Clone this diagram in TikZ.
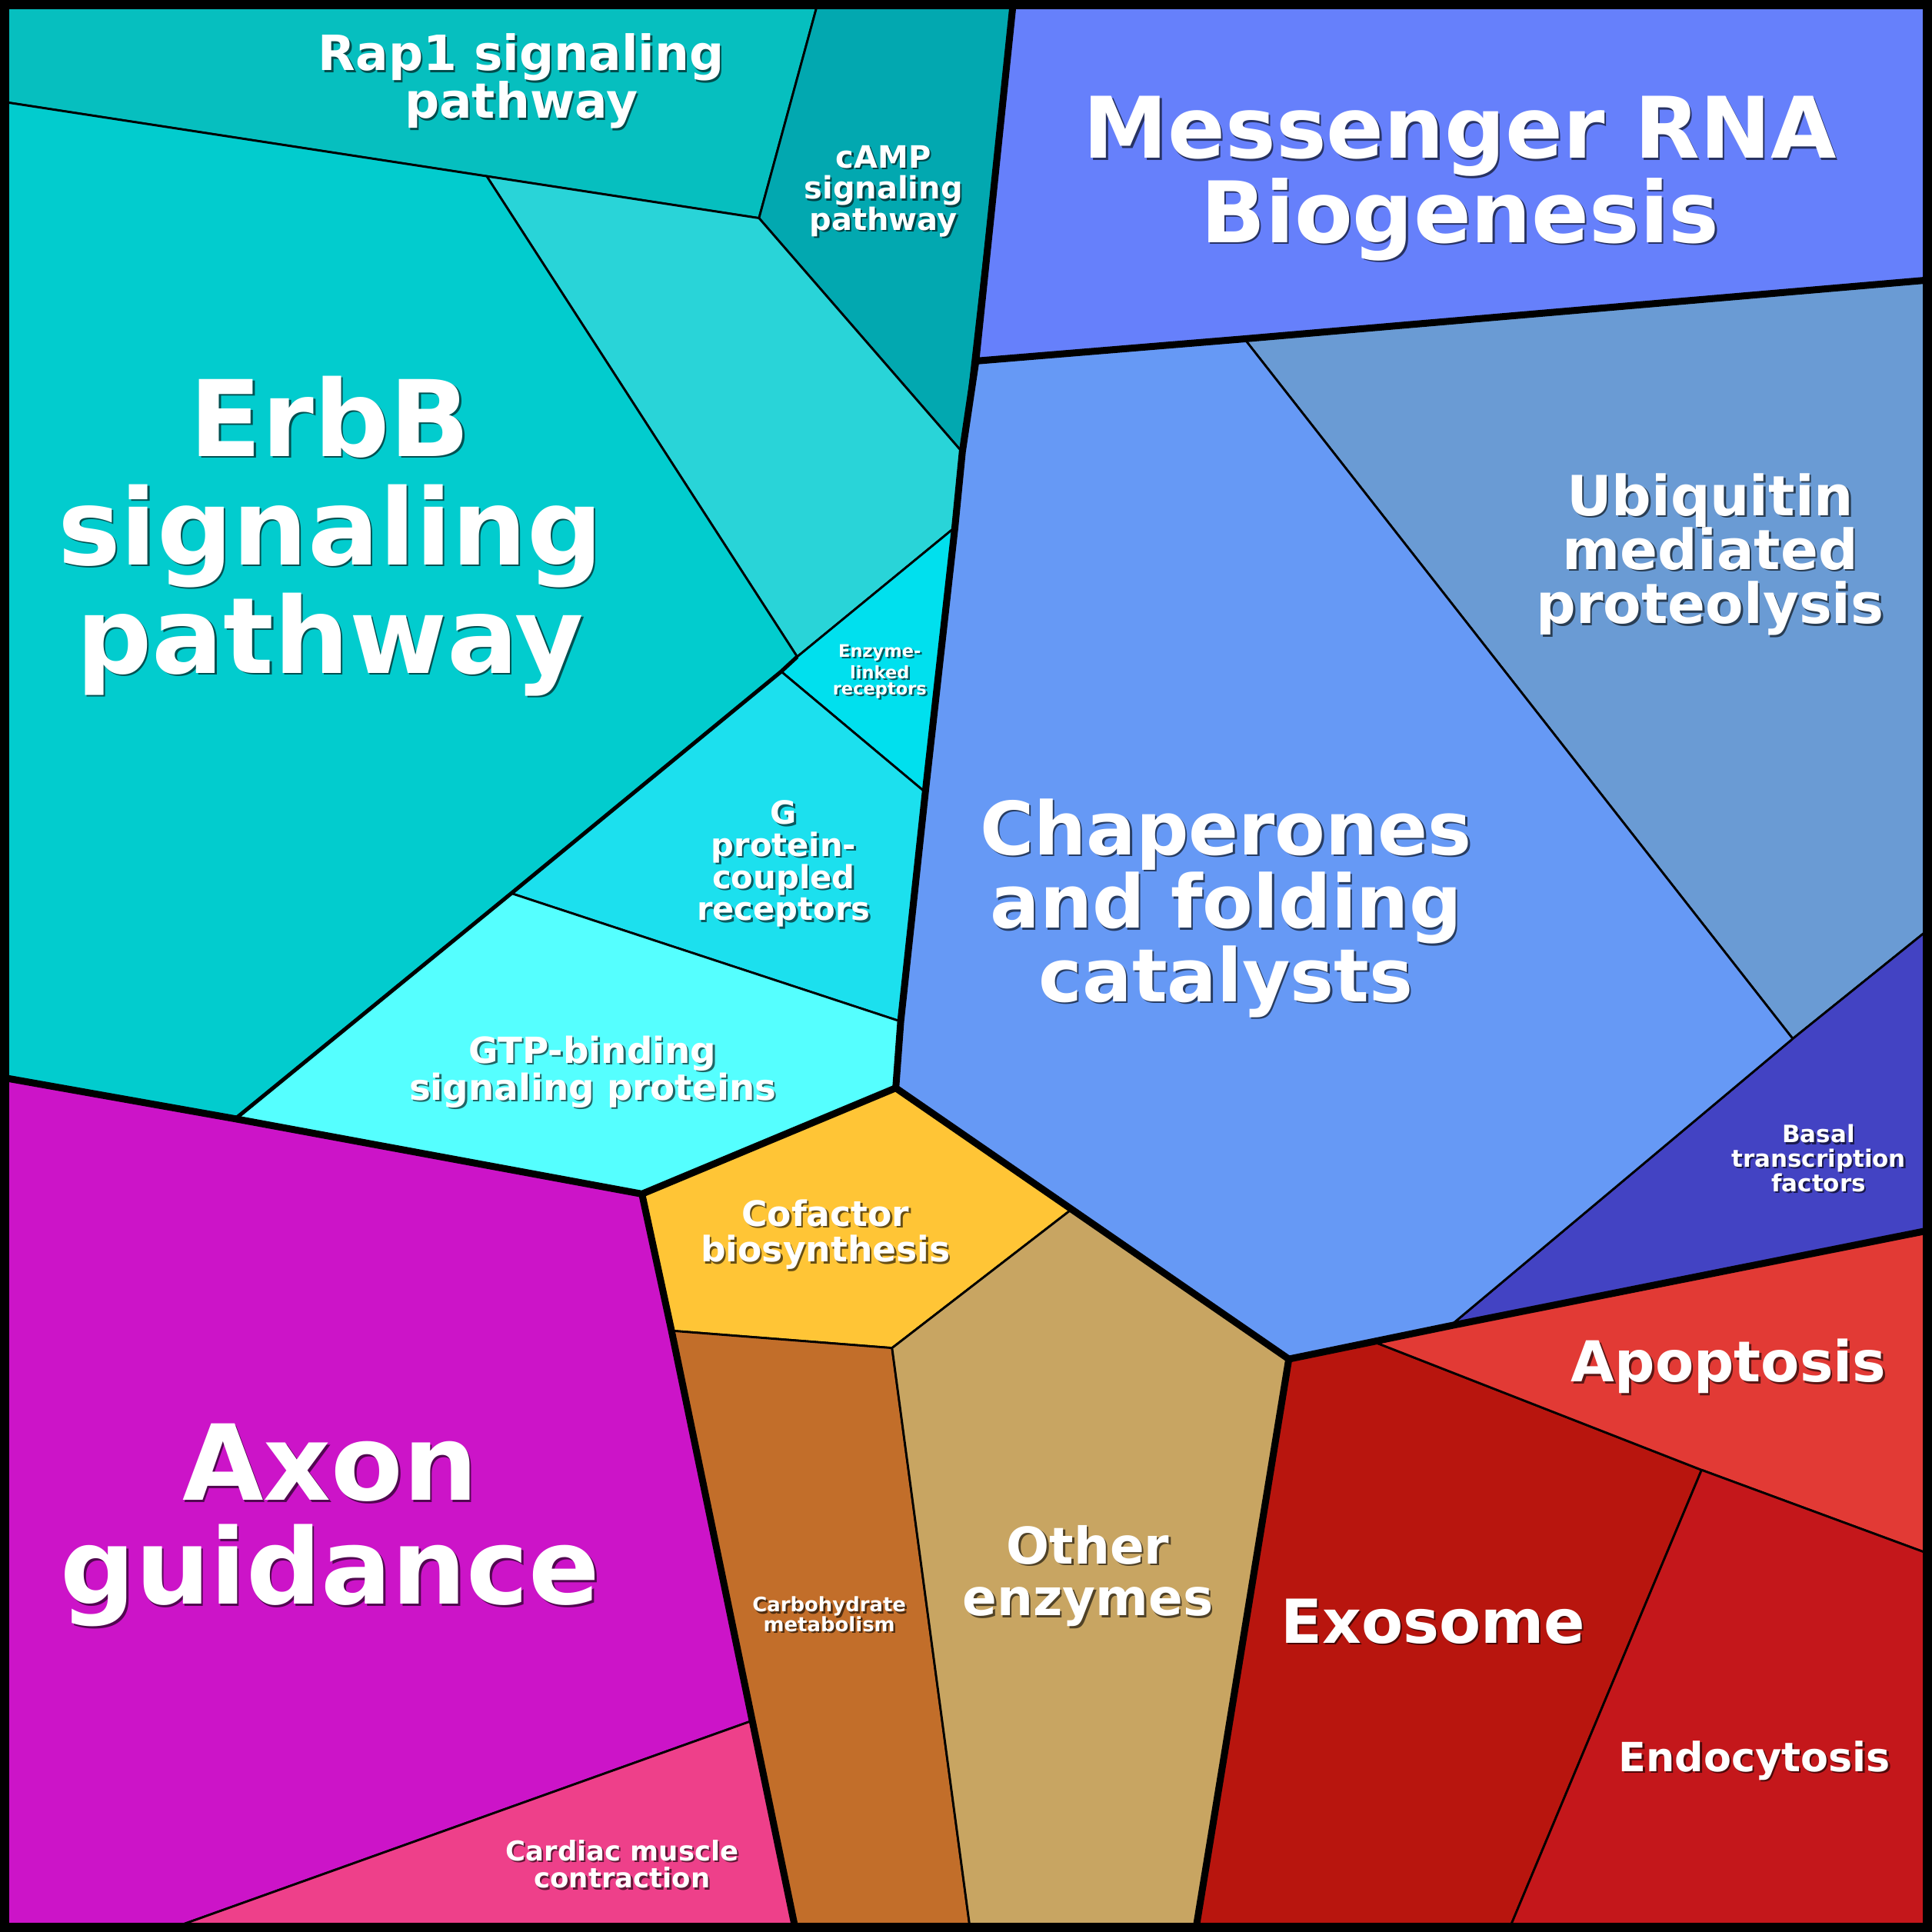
\documentclass[tikz,border=0pt]{standalone}
\usepackage{fontspec}
\setmainfont{DejaVu Sans}
\usetikzlibrary{calc}
\begin{document}
\begin{tikzpicture}[x=0.01cm,y=-0.01cm,
  cell/.style={draw=black,line width=0.5pt,line join=round},
  grp/.style={draw=black,line width=1.6pt,line join=round},
  lbl/.style={text=white,font=\bfseries,align=center},
  shd/.style={text=black,opacity=0.6,font=\bfseries,align=center}]
\useasboundingbox (0,0) rectangle (1568,1568);
\newcommand\lab[4]{%
  \node[shd,font={\fontsize{#2}{#3}\selectfont\bfseries}] at ($(#1)+(1.5,1.5)$) {#4};
  \node[lbl,font={\fontsize{#2}{#3}\selectfont\bfseries}] at (#1) {#4};}
\definecolor{cMes}{RGB}{102,128,251}
\definecolor{cCha}{RGB}{102,153,245}
\definecolor{cUbi}{RGB}{106,155,212}
\definecolor{cBas}{RGB}{67,67,195}
\definecolor{cRap}{RGB}{6,191,191}
\definecolor{cCam}{RGB}{2,168,176}
\definecolor{cLt}{RGB}{41,212,216}
\definecolor{cErb}{RGB}{2,204,206}
\definecolor{cEnz}{RGB}{0,224,238}
\definecolor{cGp}{RGB}{28,224,238}
\definecolor{cGtp}{RGB}{85,255,255}
\definecolor{cAx}{RGB}{204,20,200}
\definecolor{cCar}{RGB}{238,64,138}
\definecolor{cCof}{RGB}{255,197,54}
\definecolor{cCarb}{RGB}{194,110,42}
\definecolor{cOth}{RGB}{200,165,98}
\definecolor{cExo}{RGB}{184,21,14}
\definecolor{cApo}{RGB}{226,58,53}
\definecolor{cEndo}{RGB}{196,23,27}
% cells
\coordinate (mes) at (1185,145);
\fill[cMes,cell] (822,5)--(1568,5)--(1568,227)--(1010,275)--(792,293)--cycle;
\fill[cUbi,cell] (1010,275)--(1568,227)--(1568,752)--(1455,843)--cycle;
\fill[cBas,cell] (1455,843)--(1568,752)--(1568,998)--(1177,1076)--cycle;
\fill[cCha,cell] (792,293)--(1010,275)--(1455,843)--(1177,1076)--(1046,1103)--(727,883)--(731,829)--(751,643)--(775,428)--(781,367)--cycle;
\fill[cRap,cell] (5,5)--(663,5)--(616,177)--(395,143)--(5,83)--cycle;
\fill[cCam,cell] (663,5)--(822,5)--(781,367)--(616,177)--cycle;
\fill[cLt,cell] (395,143)--(616,177)--(781,367)--(775,428)--(647,533)--cycle;
\fill[cErb,cell] (5,83)--(395,143)--(647,533)--(634,545)--(415,725)--(191,908)--(5,875)--cycle;
\fill[cEnz,cell] (647,533)--(775,428)--(751,643)--(634,545)--cycle;
\fill[cGp,cell] (634,545)--(751,643)--(731,829)--(415,725)--cycle;
\fill[cGtp,cell] (415,725)--(731,829)--(727,883)--(521,969)--(191,908)--cycle;
\fill[cAx,cell] (5,875)--(191,908)--(521,969)--(545,1080)--(609,1397)--(145,1563)--(5,1563)--cycle;
\fill[cCar,cell] (609,1397)--(645,1563)--(145,1563)--cycle;
\fill[cCof,cell] (521,969)--(727,883)--(869,982)--(724,1094)--(545,1080)--cycle;
\fill[cCarb,cell] (545,1080)--(724,1094)--(787,1563)--(645,1563)--cycle;
\fill[cOth,cell] (724,1094)--(869,982)--(1046,1103)--(971,1563)--(787,1563)--cycle;
\fill[cExo,cell] (1046,1103)--(1115,1089)--(1381,1193)--(1226,1563)--(971,1563)--cycle;
\fill[cApo,cell] (1115,1089)--(1177,1076)--(1568,998)--(1568,1262)--(1381,1193)--cycle;
\fill[cEndo,cell] (1381,1193)--(1568,1262)--(1568,1563)--(1226,1563)--cycle;
% medium inner lines of teal group
\draw[line width=0.9pt] (647,533)--(634,545)--(415,725)--(191,908);
% group borders
\draw[grp] (822,5)--(792,293)--(781,367)--(775,428)--(751,643)--(731,829)--(727,883);
\draw[grp] (792,293)--(1010,275)--(1568,227);
\draw[grp] (5,875)--(191,908)--(521,969)--(727,883)--(1046,1103)--(1177,1076)--(1568,998);
\draw[grp] (521,969)--(545,1080)--(645,1563);
\draw[grp] (1046,1103)--(971,1563);
\draw[black,line width=3pt] (2.5,2.5) rectangle (1565.5,1565.5);
% labels
\lab{mes}{19.6}{19.5}{Messenger RNA\\Biogenesis}
\coordinate (a) at (268,435); \lab{a}{24.4}{25}{ErbB\\signaling\\pathway}
\coordinate (a) at (268,1238); \lab{a}{24.2}{24}{Axon\\guidance}
\coordinate (a) at (995,737); \lab{a}{17}{17}{Chaperones\\and folding\\catalysts}
\coordinate (a) at (1388,450); \lab{a}{12.8}{12.5}{Ubiquitin\\mediated\\proteolysis}
\coordinate (a) at (423,66); \lab{a}{11.2}{11}{Rap1 signaling\\pathway}
\coordinate (a) at (717,155); \lab{a}{7.1}{7.2}{cAMP\\signaling\\pathway}
\coordinate (a) at (714,545); \lab{a}{4}{3.8}{Enzyme-\\linked\\receptors}
\coordinate (a) at (636,701); \lab{a}{7.4}{7.4}{G\\protein-\\coupled\\receptors}
\coordinate (a) at (481,870); \lab{a}{8.3}{8.5}{GTP-binding\\signaling proteins}
\coordinate (a) at (670,1002); \lab{a}{8.1}{8.2}{Cofactor\\biosynthesis}
\coordinate (a) at (673,1310); \lab{a}{4.6}{4.5}{Carbohydrate\\metabolism}
\coordinate (a) at (883,1279); \lab{a}{11.7}{12}{Other\\enzymes}
\coordinate (a) at (505,1513); \lab{a}{6.3}{6.3}{Cardiac muscle\\contraction}
\coordinate (a) at (1163,1316); \lab{a}{14}{13}{Exosome}
\coordinate (a) at (1403,1109); \lab{a}{13}{12}{Apoptosis}
\coordinate (a) at (1424,1429); \lab{a}{9.3}{9}{Endocytosis}
\coordinate (a) at (1476,940); \lab{a}{5.5}{5.6}{Basal\\transcription\\factors}
\end{tikzpicture}
\end{document}
